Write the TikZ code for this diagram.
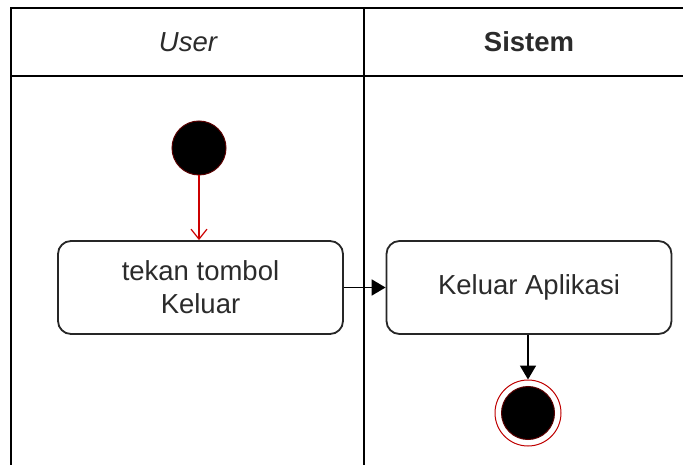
\documentclass[tikz,border=0pt]{standalone}
\usepackage{fontspec}
\setmainfont{Liberation Sans}
\usetikzlibrary{arrows.meta}
\definecolor{txt}{HTML}{2B2B2B}
\definecolor{edge}{HTML}{5A0000}
\tikzset{
  lane/.style={line width=2.2pt, draw=black},
  actbox/.style={draw=black!85, line width=1.8pt, rounded corners=13pt, fill=white,
    minimum width=285pt, minimum height=93pt, align=center, text=txt,
    font=\fontsize{27.5}{33}\selectfont, inner sep=0pt},
  startdot/.style={circle, fill=black, draw=edge, line width=1pt, minimum size=54pt, inner sep=0pt},
  enddot/.style={circle, draw=red!75!black, line width=1pt, fill=white, minimum size=66pt, inner sep=0pt},
  enddisk/.style={circle, fill=black, draw=edge, line width=1pt, minimum size=53pt, inner sep=0pt},
  redflow/.style={draw=red!80!black, line width=1.2pt, -{Straight Barb[length=10pt,width=16pt,line width=1.2pt]}},
  flow/.style={draw=black, line width=1.8pt, -{Triangle[length=14pt,width=16pt]}},
  head/.style={text=txt, font=\fontsize{27.5}{33}\selectfont}
}
\begin{document}
\begin{tikzpicture}[x=1pt,y=-1pt]
  \useasboundingbox (0,0) rectangle (683,465);
  % swimlane frame
  \draw[lane] (11,466) -- (11,8) -- (684,8);
  \draw[lane] (11,76) -- (684,76);
  \draw[lane] (364,8) -- (364,466);
  \node[head] (hu) at (188,42) {\itshape User};
  \node[head] (hs) at (529,42) {\bfseries Sistem};

  % activity nodes
  \node[startdot] (start) at (199,148) {};
  \node[actbox] (a1) at (200.5,287.5) {tekan tombol\\Keluar};
  \node[actbox] (a2) at (529,287.5) {Keluar Aplikasi};
  \node[enddot] (stop) at (528,413) {};
  \node[enddisk] (stopin) at (528,413) {};

  % flows
  \draw[redflow] (start) -- (start |- a1.north);
  \draw[flow] (a1.east) -- (a2.west);
  \draw[flow] (a2.south -| stop) -- (stop.north);
\end{tikzpicture}
\end{document}
